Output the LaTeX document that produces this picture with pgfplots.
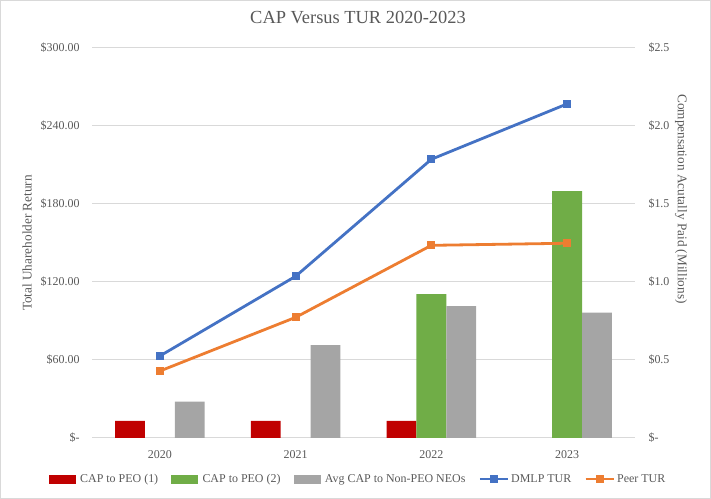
\documentclass[border=0pt]{standalone}
\usepackage{pgfplots}
\pgfplotsset{compat=1.18}
\usepackage{fontspec}
\setmainfont{Liberation Serif}
\definecolor{txt}{HTML}{595959}
\definecolor{cred}{HTML}{C00000}
\definecolor{cgreen}{HTML}{70AD47}
\definecolor{cgray}{HTML}{A5A5A5}
\definecolor{cblue}{HTML}{4472C4}
\definecolor{corange}{HTML}{ED7D31}
\definecolor{gridc}{HTML}{D9D9D9}
\pgfplotsset{mylinelegend/.style={legend image code/.code={\draw[mark repeat=2,mark phase=2,##1] plot coordinates {(0bp,0bp) (14bp,0bp) (28bp,0bp)};}}}
\pgfplotsset{mybarlegend/.style={legend image code/.code={\fill[#1] (0bp,-4bp) rectangle (26bp,4bp); \path[draw=none] (29bp,0bp) circle (0.1bp);}}}
\begin{document}
\begin{tikzpicture}[x=1bp,y=1bp]
\path[use as bounding box] (0,0) rectangle (711,499);
\draw[gridc, line width=1bp] (0.5,0.5) rectangle (710.5,498.5);
% bars, right axis
\begin{axis}[
  at={(92bp,61bp)}, anchor=south west, scale only axis,
  width=543bp, height=390bp,
  xmin=-0.5, xmax=3.5, ymin=0, ymax=2.5,
  axis line style={draw=none}, major tick length=0pt,
  xtick={0,1,2,3}, xticklabels={2020,2021,2022,2023},
  ytick={0,0.5,1,1.5,2,2.5},
  yticklabels={\$-,\$0.5,\$1.0,\$1.5,\$2.0,\$2.5},
  yticklabel pos=right,
  ymajorgrids, grid style={gridc, line width=1bp},
  tick label style={font=\fontsize{12}{14}\selectfont, text=txt},
  yticklabel style={anchor=west, xshift=10bp},
  xticklabel style={yshift=-9bp},
  ybar, bar width=0.22,
]
\addplot[fill=cred, draw=none, bar shift=-0.22] coordinates {(0,0.11) (1,0.11) (2,0.11)};
\addplot[fill=cgreen, draw=none, bar shift=0] coordinates {(2,0.923) (3,1.583)};
\addplot[fill=cgray, draw=none, bar shift=0.22] coordinates {(0,0.233) (1,0.596) (2,0.846) (3,0.803)};
\end{axis}
% lines, left axis
\begin{axis}[
  at={(92bp,61bp)}, anchor=south west, scale only axis,
  width=543bp, height=390bp,
  xmin=-0.5, xmax=3.5, ymin=0, ymax=300,
  axis line style={draw=none}, major tick length=0pt,
  xtick=\empty,
  ytick={0,60,120,180,240,300},
  yticklabels={\$-\hspace{6bp},\$60.00,\$120.00,\$180.00,\$240.00,\$300.00},
  tick label style={font=\fontsize{12}{14}\selectfont, text=txt},
  yticklabel style={anchor=east, xshift=-9bp},
  clip=false,
  legend columns=5,
  legend style={at={(0.49,-0.105)}, anchor=center, draw=none, fill=none,
    font=\fontsize{12}{14}\selectfont, text=txt,
    /tikz/every even column/.append style={column sep=11bp}},
]
\addlegendimage{mybarlegend=cred}
\addlegendentry{CAP to PEO (1)}
\addlegendimage{mybarlegend=cgreen}
\addlegendentry{CAP to PEO (2)}
\addlegendimage{mybarlegend=cgray}
\addlegendentry{Avg CAP to Non-PEO NEOs}
\addplot[cblue, line width=2.8bp, mark=square*, mark size=2.6bp, mark options={solid}, mylinelegend]
  coordinates {(0,63.1) (1,124.4) (2,214.4) (3,257)};
\addlegendentry{DMLP TUR}
\addplot[corange, line width=2.8bp, mark=square*, mark size=2.6bp, mark options={solid}, mylinelegend]
  coordinates {(0,51.5) (1,92.8) (2,148.2) (3,149.8)};
\addlegendentry{Peer TUR}
\end{axis}
\node[rotate=90, font=\fontsize{13.3}{16}\selectfont, text=txt] at (27,256) {Total Uhareholder Return};
\node[rotate=-90, font=\fontsize{13.3}{16}\selectfont, text=txt] at (681,300) {Compensation Acutally Paid (Millions)};
\node[font=\fontsize{18.5}{22}\selectfont, text=txt] at (358,481) {CAP Versus TUR 2020-2023};
\end{tikzpicture}
\end{document}
